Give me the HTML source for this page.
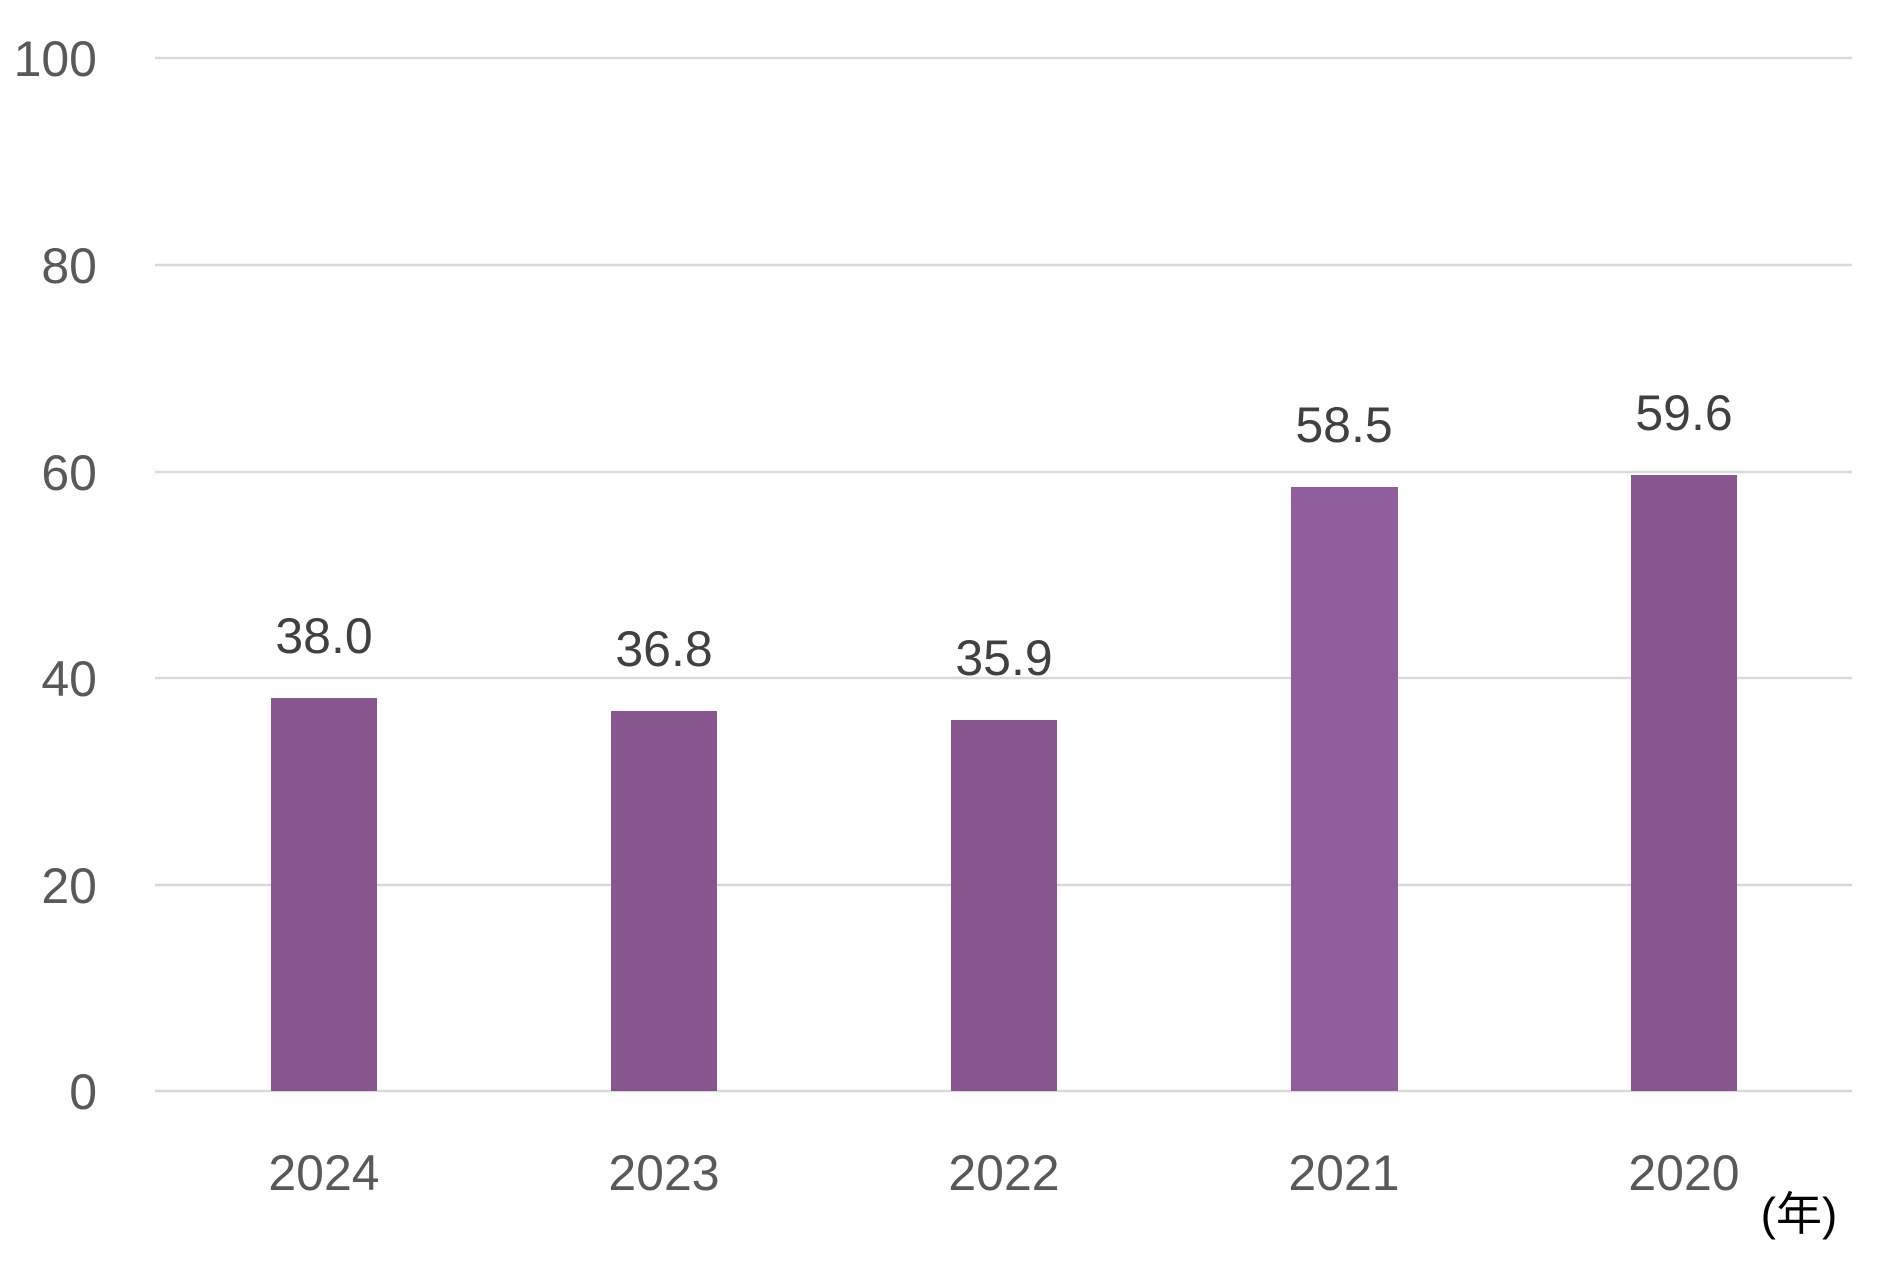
<!DOCTYPE html>
<html><head><meta charset="utf-8"><style>
body{margin:0;background:#fff}
svg text{font-family:"Liberation Sans","Noto Sans CJK JP",sans-serif}
</style></head><body>
<svg width="1897" height="1271" viewBox="0 0 1897 1271" xmlns="http://www.w3.org/2000/svg">
<g stroke="#d9d9d9" stroke-width="2.5">
<line x1="155" x2="1852" y1="58" y2="58"/>
<line x1="155" x2="1852" y1="265" y2="265"/>
<line x1="155" x2="1852" y1="472" y2="472"/>
<line x1="155" x2="1852" y1="678" y2="678"/>
<line x1="155" x2="1852" y1="885" y2="885"/>
<line x1="155" x2="1852" y1="1091" y2="1091"/>
</g>
<g font-size="50" fill="#595959" text-anchor="end">
<text x="97" y="76">100</text>
<text x="97" y="283">80</text>
<text x="97" y="490">60</text>
<text x="97" y="696">40</text>
<text x="97" y="903">20</text>
<text x="97" y="1109">0</text>
</g>
<g fill="#87568f">
<rect x="271" y="698" width="106" height="393"/>
<rect x="611" y="711" width="106" height="380"/>
<rect x="951" y="720" width="106" height="371"/>
<rect x="1291" y="487" width="107" height="604" fill="#915e9d"/>
<rect x="1631" y="475" width="106" height="616"/>
</g>
<g font-size="50" fill="#404040" text-anchor="middle">
<text x="324" y="653">38.0</text>
<text x="664" y="666">36.8</text>
<text x="1004" y="675">35.9</text>
<text x="1344" y="442">58.5</text>
<text x="1684" y="430">59.6</text>
</g>
<g font-size="50" fill="#595959" text-anchor="middle">
<text x="324" y="1190">2024</text>
<text x="664" y="1190">2023</text>
<text x="1004" y="1190">2022</text>
<text x="1344" y="1190">2021</text>
<text x="1684" y="1190">2020</text>
</g>
<text x="1799" y="1230" font-size="46" fill="#000" text-anchor="middle">(年)</text>
</svg>
</body></html>
